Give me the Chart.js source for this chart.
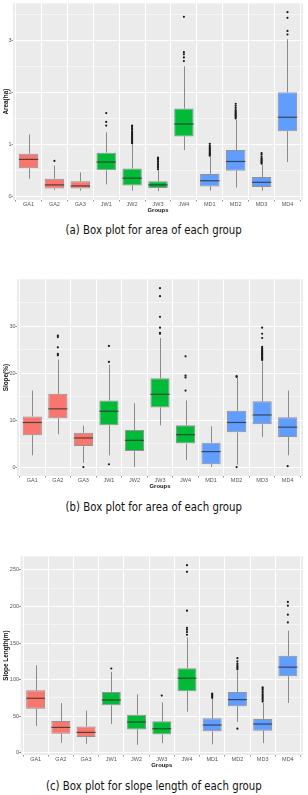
<!DOCTYPE html>
<html><head><meta charset="utf-8">
<script src="https://cdn.jsdelivr.net/npm/chart.js@4/dist/chart.umd.min.js"></script>
<style>
html,body{margin:0;padding:0;background:#fff;}
#wrap{position:relative;width:308px;height:795px;overflow:hidden;}
#wrap canvas{position:absolute;left:0;}
.cap{position:absolute;left:0;width:308px;text-align:center;font-family:"DejaVu Sans";font-size:12px;color:#111;white-space:nowrap;line-height:14px;}
.cap span{display:inline-block;transform:scaleX(0.85);}
</style></head>
<body><div id="wrap">
<canvas id="c1" width="308" height="216" style="top:0px"></canvas>
<div class="cap" style="top:223px"><span>(a) Box plot for area of each group</span></div>
<canvas id="c2" width="308" height="216" style="top:276px"></canvas>
<div class="cap" style="top:500px"><span>(b) Box plot for area of each group</span></div>
<canvas id="c3" width="308" height="218" style="top:553px"></canvas>
<div class="cap" style="top:779px"><span>(c) Box plot for slope length of each group</span></div>
</div>
<script>
// ---- categories ----
const categories = ['GA1','GA2','GA3','JW1','JW2','JW3','JW4','MD1','MD2','MD3','MD4'];
const groupOf = ['GA','GA','GA','JW','JW','JW','JW','MD','MD','MD','MD'];
const groupColors = {GA:'#F8766D', JW:'#00BA38', MD:'#619CFF'};

// ---- (a) Area(ha) ----
const areaTicks = [0,1,2,3];
const areaLo  = [0.34,0.12,0.11,0.23,0.11,0.10,0.89,0.11,0.17,0.11,0.66];
const areaQ1  = [0.54,0.15,0.15,0.50,0.21,0.16,1.15,0.19,0.49,0.18,1.25];
const areaMed = [0.71,0.22,0.20,0.66,0.35,0.22,1.39,0.30,0.67,0.27,1.52];
const areaQ3  = [0.82,0.34,0.29,0.84,0.535,0.29,1.69,0.43,0.89,0.37,2.00];
const areaHi  = [1.19,0.59,0.46,1.23,1.00,0.50,2.50,0.76,1.48,0.62,3.02];
const areaOut = [
  [1,0.68],
  [3,1.36],[3,1.43],[3,1.60],
  [4,1.02],[4,1.04],[4,1.06],[4,1.08],[4,1.10],[4,1.12],[4,1.14],[4,1.16],[4,1.18],[4,1.20],[4,1.22],[4,1.25],[4,1.28],[4,1.31],[4,1.34],[4,1.36],
  [5,0.52],[5,0.55],[5,0.58],[5,0.61],[5,0.64],[5,0.67],[5,0.70],[5,0.72],[5,0.745],
  [6,2.60],[6,2.67],[6,2.73],[6,2.77],[6,3.45],
  [7,0.78],[7,0.80],[7,0.82],[7,0.84],[7,0.86],[7,0.88],[7,0.90],[7,0.92],[7,0.94],[7,0.97],[7,1.01],
  [8,1.50],[8,1.52],[8,1.54],[8,1.56],[8,1.58],[8,1.60],[8,1.62],[8,1.64],[8,1.66],[8,1.70],[8,1.74],[8,1.78],
  [9,0.63],[9,0.65],[9,0.67],[9,0.69],[9,0.71],[9,0.73],[9,0.76],[9,0.80],[9,0.83],
  [10,3.11],[10,3.18],[10,3.43],[10,3.54]
];

// ---- (b) Slope(%) ----
const slopeTicks = [0,10,20,30];
const slopeLo  = [2.5,7.0,0.9,2.5,0.0,8.9,1.5,0.0,0.5,6.4,2.5];
const slopeQ1  = [6.8,10.4,4.5,8.9,3.4,12.7,5.0,0.6,7.4,9.1,6.4];
const slopeMed = [9.5,12.4,6.2,11.9,5.7,15.5,6.9,3.3,9.5,11.1,8.5];
const slopeQ3  = [10.8,15.6,7.3,14.2,7.9,18.9,8.9,5.2,12.0,14.0,10.6];
const slopeHi  = [16.3,22.9,8.8,21.8,13.6,27.5,14.2,8.7,19.0,22.5,16.3];
const slopeOut = [
  [1,23.8],[1,24.1],[1,25.5],[1,27.7],[1,28.0],
  [2,0.0],
  [3,0.6],[3,22.4],[3,25.8],
  [5,28.4],[5,28.6],[5,29.7],[5,32.0],[5,36.4],[5,38.1],
  [6,16.3],[6,19.1],[6,19.5],[6,23.6],
  [8,0.0],[8,19.2],[8,19.4],
  [9,22.8],[9,23.0],[9,23.2],[9,23.4],[9,23.6],[9,23.8],[9,24.0],[9,24.2],[9,24.4],[9,24.6],[9,24.8],[9,25.0],[9,25.3],[9,25.6],[9,27.5],[9,28.4],[9,29.7],
  [10,0.2]
];

// ---- (c) Slope Length(m) ----
const lenTicks = [0,50,100,150,200,250];
const lenLo  = [36.6,13.7,12.3,39.3,11.0,13.3,56.2,11.4,42.0,13.3,68.1];
const lenQ1  = [60.3,26.1,21.5,64.9,32.0,25.1,84.1,29.3,63.5,30.2,104.7];
const lenMed = [74.5,34.7,27.9,72.2,42.0,32.9,101.9,37.9,72.7,39.3,117.0];
const lenQ3  = [85.5,43.4,36.1,83.2,52.1,43.0,115.6,47.1,83.2,46.2,132.5];
const lenHi  = [119.7,68.1,57.6,110.6,80.0,69.0,157.7,74.0,112.0,68.1,166.8];
const lenOut = [
  [3,115.2],
  [5,78.2],
  [6,161.3],[6,165.0],[6,168.2],[6,170.9],[6,194.2],[6,247.3],[6,256.4],
  [7,75.0],[7,76.5],[7,78.0],[7,79.5],[7,80.9],
  [8,33.0],[8,114],[8,116],[8,118],[8,120],[8,122],[8,125],[8,129.3],
  [9,70],[9,72],[9,74],[9,76],[9,78],[9,80],[9,82],[9,84],[9,86],[9,88],[9,89.6],
  [10,178.2],[10,188.8],[10,201.1],[10,206.1]
];

const bgPlugin = {
  id:'panelBg',
  beforeDraw(chart){
    const {ctx, chartArea:a} = chart;
    ctx.save(); ctx.fillStyle = '#EBEBEB';
    ctx.fillRect(a.left, a.top, a.right - a.left, a.bottom - a.top);
    ctx.restore();
  }
};

function boxPlugin(lo, med, hi){
  return {
    id:'boxParts',
    beforeDatasetDraw(chart, args){
      if (args.index !== 0) return;
      const ctx = chart.ctx, y = chart.scales.y, meta = chart.getDatasetMeta(0);
      ctx.save(); ctx.strokeStyle = '#8a8a8a'; ctx.lineWidth = 1;
      meta.data.forEach((el, i) => {
        const x = Math.round(el.x) + 0.5;
        const q1 = chart.data.datasets[0].data[i].y[0], q3 = chart.data.datasets[0].data[i].y[1];
        ctx.beginPath();
        ctx.moveTo(x, y.getPixelForValue(lo[i])); ctx.lineTo(x, y.getPixelForValue(q1));
        ctx.moveTo(x, y.getPixelForValue(q3)); ctx.lineTo(x, y.getPixelForValue(hi[i]));
        ctx.stroke();
      });
      ctx.restore();
    },
    afterDatasetDraw(chart, args){
      if (args.index !== 0) return;
      const ctx = chart.ctx, y = chart.scales.y, meta = chart.getDatasetMeta(0);
      ctx.save(); ctx.strokeStyle = 'rgba(40,40,40,0.75)'; ctx.lineWidth = 1.2;
      meta.data.forEach((el, i) => {
        const py = y.getPixelForValue(med[i]);
        ctx.beginPath(); ctx.moveTo(el.x - el.width/2, py); ctx.lineTo(el.x + el.width/2, py); ctx.stroke();
      });
      ctx.restore();
    }
  };
}

function makeChart(id, o){
  const majors = o.ticks;
  const step = majors[1] - majors[0];
  const all = [];
  majors.forEach(v => { all.push(v); if (v + step/2 <= o.max) all.push(v + step/2); });
  if (majors[0] - step/2 >= o.min) all.unshift(majors[0] - step/2);
  const isMajor = v => majors.some(m => Math.abs(m - v) < 1e-9);
  new Chart(document.getElementById(id), {
    type:'bar',
    data:{datasets:[
      {type:'bar', data: categories.map((c,i)=>({x:i+1, y:[o.q1[i], o.q3[i]]})),
       backgroundColor: categories.map((c,i)=>groupColors[groupOf[i]]),
       borderColor:'rgba(60,60,60,0.5)', borderWidth:1, borderSkipped:false,
       barPercentage:0.75, categoryPercentage:1},
      {type:'scatter', data: o.out.map(([i,v])=>({x:i+1, y:v})),
       pointRadius:1.1, pointBackgroundColor:'#1a1a1a', pointBorderWidth:0, pointHoverRadius:1.1}
    ]},
    options:{
      responsive:false, animation:false, events:[],
      layout:{padding:{top:3, right:5, left:0, bottom:0}},
      plugins:{legend:{display:false}, tooltip:{enabled:false}},
      scales:{
        x:{type:'linear', min:0.4, max:11.6, offset:false,
           afterBuildTicks: s => { s.ticks = categories.map((c,i)=>({value:i+1})); },
           ticks:{callback: v => categories[Math.round(v)-1], font:{family:'Liberation Sans', size:5.5}, color:'#555', padding:0, maxRotation:0, autoSkip:false},
           grid:{color:'#ffffff', lineWidth:1, tickColor:'#444', tickLength:1.5, tickWidth:0.6},
           border:{display:false},
           title:{display:true, text:'Groups', color:'#111', font:{family:'Liberation Sans', size:5.9, weight:'bold'}, padding:{top:0, bottom:1.8}},
           afterFit: s => { s.height = 16; }},
        y:{type:'linear', min:o.min, max:o.max,
           afterBuildTicks: s => { s.ticks = all.map(v=>({value:v})); },
           ticks:{callback: v => isMajor(v) ? String(v) : '', font:{family:'Liberation Sans', size:5.5}, color:'#555', padding:0, autoSkip:false},
           grid:{color:'#ffffff', lineWidth: c => (c.tick && isMajor(c.tick.value)) ? 1 : 0.5,
                 tickColor: c => (c.tick && isMajor(c.tick.value)) ? '#444' : 'rgba(0,0,0,0)', tickLength:1.5, tickWidth:0.6},
           border:{display:false},
           title:{display:true, text:o.title, color:'#111', font:{family:'Liberation Sans', size:6.4, weight:'bold'}, padding:{top:2.2, bottom:0}},
           afterFit: s => { s.width = o.yWidth; }}
      }
    },
    plugins:[bgPlugin, boxPlugin(o.lo, o.med, o.hi)]
  });
}

makeChart('c1', {ticks:areaTicks, min:-0.07, max:3.71, q1:areaQ1, med:areaMed, q3:areaQ3, lo:areaLo, hi:areaHi, out:areaOut, title:'Area(ha)', yWidth:13});
makeChart('c2', {ticks:slopeTicks, min:-1.9, max:40.0, q1:slopeQ1, med:slopeMed, q3:slopeQ3, lo:slopeLo, hi:slopeHi, out:slopeOut, title:'Slope(%)', yWidth:17});
makeChart('c3', {ticks:lenTicks, min:-3, max:268.5, q1:lenQ1, med:lenMed, q3:lenQ3, lo:lenLo, hi:lenHi, out:lenOut, title:'Slope Length(m)', yWidth:20.5});
</script>
</body></html>
